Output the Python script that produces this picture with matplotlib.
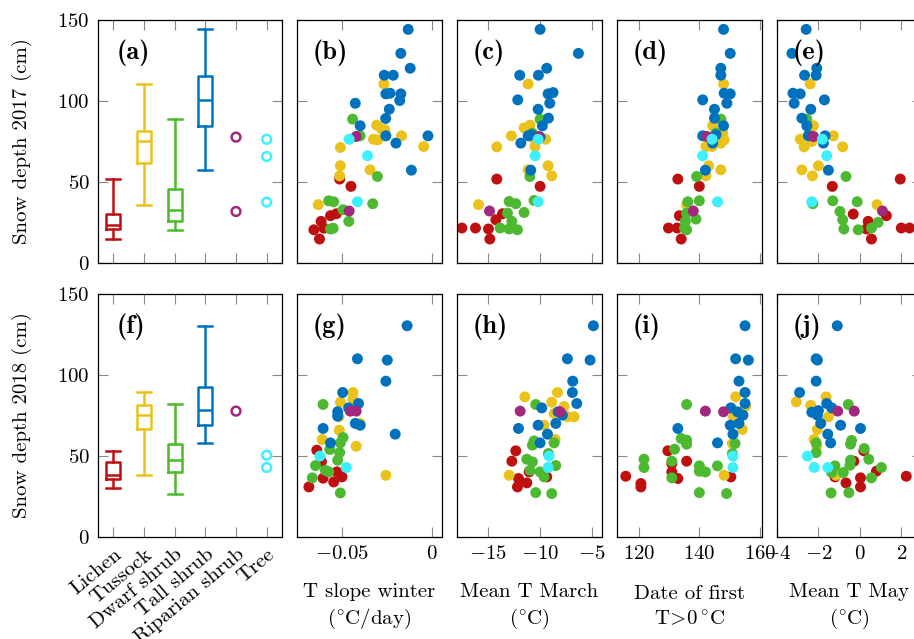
import matplotlib
matplotlib.use("Agg")
import matplotlib.pyplot as plt

plt.rcParams['font.family'] = 'cmr10'
plt.rcParams['mathtext.fontset'] = 'cm'
plt.rcParams['axes.unicode_minus'] = False

classes = ["Lichen", "Tussock", "Dwarf shrub", "Tall shrub", "Riparian shrub", "Tree"]
colors = ["#BE1010", "#EBC21B", "#4DB930", "#0072BD", "#A2287E", "#3DF0FF"]

# boxplot stats for the first four classes: whisker low, q1, median, q3, whisker high
lo17 = [14.8, 35.8, 20.1, 57.1]
q1_17 = [21.0, 62.0, 25.9, 84.4]
med17 = [23.2, 75.0, 32.5, 100.7]
q3_17 = [30.2, 81.2, 45.8, 115.5]
hi17 = [52.0, 110.7, 88.8, 144.2]
riparian17 = [77.7, 31.8]
tree17 = [76.4, 65.7, 37.6]

lo18 = [30.5, 38.1, 26.8, 58.1]
q1_18 = [35.9, 66.6, 40.2, 69.4]
med18 = [38.5, 75.2, 47.4, 78.3]
q3_18 = [46.2, 81.2, 57.3, 92.7]
hi18 = [53.0, 89.2, 81.8, 130.4]
riparian18 = [77.7]
tree18 = [50.5, 42.9]

# scatter panels, 2017 (snow depth vs predictor)
b_pts = {
    "Lichen": [(-0.0513, 51.8), (-0.0450, 47.3), (-0.0564, 29.2), (-0.0531, 30.4),
               (-0.0616, 25.7), (-0.0656, 20.5), (-0.0625, 14.8), (-0.0600, 21.5)],
    "Tussock": [(-0.0267, 110.5), (-0.0307, 85.1), (-0.0279, 82.6), (-0.0261, 82.2),
                (-0.0325, 76.4), (-0.0301, 76.0), (-0.0169, 78.5), (-0.0046, 71.9),
                (-0.0509, 71.3), (-0.0509, 60.0), (-0.0513, 53.8), (-0.0344, 57.5),
                (-0.0632, 36.0)],
    "Dwarf shrub": [(-0.0441, 88.8), (-0.0399, 78.5), (-0.0303, 53.4), (-0.0574, 38.4),
                    (-0.0546, 37.8), (-0.0329, 36.6), (-0.0494, 32.9), (-0.0462, 25.7),
                    (-0.0564, 21.0), (-0.0549, 21.4)],
    "Tall shrub": [(-0.0132, 144.2), (-0.0173, 129.4), (-0.0121, 120.2), (-0.0265, 115.9),
                   (-0.0215, 115.9), (-0.0256, 104.4), (-0.0233, 104.8), (-0.0173, 104.4),
                   (-0.0179, 100.3), (-0.0426, 98.6), (-0.0237, 94.9), (-0.0257, 89.2),
                   (-0.0399, 84.7), (-0.0256, 78.5), (-0.0200, 74.0), (-0.0022, 78.5),
                   (-0.0114, 57.3)],
    "Riparian shrub": [(-0.0421, 78.1), (-0.0460, 32.1)],
    "Tree": [(-0.0460, 76.4), (-0.0358, 66.2), (-0.0414, 37.8)],
}
c_pts = {
    "Lichen": [(-14.17, 51.8), (-10.0, 47.3), (-13.62, 30.4), (-14.26, 26.7),
               (-17.53, 21.6), (-16.22, 21.6), (-14.97, 21.0), (-14.84, 14.8)],
    "Tussock": [(-11.15, 110.5), (-12.76, 78.5), (-14.17, 71.7), (-11.54, 83.4),
                (-10.96, 85.1), (-10.64, 77.1), (-9.46, 76.4), (-10.48, 71.9),
                (-9.23, 60.0), (-8.88, 53.8), (-11.15, 57.5), (-15.93, 36.0)],
    "Dwarf shrub": [(-10.0, 88.8), (-10.74, 80.1), (-10.99, 53.4), (-12.98, 38.0),
                    (-12.34, 36.6), (-10.58, 38.6), (-11.54, 31.2), (-13.14, 30.8),
                    (-12.72, 25.7), (-13.85, 21.6), (-12.98, 21.0), (-12.18, 20.5)],
    "Tall shrub": [(-10.0, 144.2), (-6.31, 129.4), (-9.36, 120.2), (-11.96, 115.9),
                   (-10.16, 115.9), (-9.23, 104.4), (-8.75, 105.2), (-9.07, 98.6),
                   (-12.15, 100.7), (-10.19, 94.9), (-9.2, 89.4), (-9.78, 84.7),
                   (-11.15, 78.5), (-10.8, 79.1), (-11.86, 74.0), (-10.9, 57.3),
                   (-10.0, 77.7)],
    "Riparian shrub": [(-14.87, 32.1), (-10.1, 78.1)],
    "Tree": [(-10.19, 76.4), (-10.48, 66.2), (-10.19, 37.8)],
}
d_pts = {
    "Lichen": [(132.9, 51.8), (140.0, 47.3), (133.4, 29.2), (129.8, 21.6),
               (132.7, 21.6), (134.0, 14.8)],
    "Tussock": [(148.0, 110.5), (144.4, 84.7), (147.7, 80.5), (148.2, 76.0),
                (147.1, 74.0), (142.2, 71.9), (144.2, 71.9), (143.1, 60.0),
                (142.2, 53.8), (147.1, 57.5), (135.8, 36.0)],
    "Dwarf shrub": [(147.1, 88.8), (145.5, 80.1), (139.1, 53.4), (140.0, 38.4),
                    (136.2, 37.8), (135.8, 30.8), (138.9, 27.1), (135.4, 25.7),
                    (135.1, 21.6), (135.8, 20.5)],
    "Tall shrub": [(148.0, 144.2), (150.2, 129.4), (147.1, 120.2), (147.1, 115.9),
                   (148.2, 104.8), (150.2, 104.4), (149.1, 98.6), (141.1, 100.7),
                   (145.0, 94.9), (145.0, 89.4), (148.0, 84.7), (141.1, 78.5),
                   (144.0, 76.0), (144.4, 74.0), (142.0, 57.3), (145.5, 79.1)],
    "Riparian shrub": [(142.5, 78.1), (138.0, 32.1)],
    "Tree": [(144.2, 76.4), (141.1, 66.2), (146.0, 37.8)],
}
e_pts = {
    "Lichen": [(1.95, 51.8), (-1.33, 47.3), (-0.32, 30.2), (0.4, 25.7), (1.28, 29.2),
               (0.32, 21.0), (0.56, 14.8), (2.0, 21.6), (2.4, 21.6)],
    "Tussock": [(-2.4, 110.5), (-2.24, 84.7), (-1.28, 78.5), (-2.88, 76.4),
                (-2.32, 75.0), (-2.69, 71.7), (-0.83, 71.7), (-2.0, 60.0),
                (-2.29, 53.8), (-2.8, 57.5), (0.83, 36.0)],
    "Dwarf shrub": [(-2.56, 88.8), (-2.48, 79.1), (-0.67, 53.4), (-1.31, 38.4),
                    (-0.13, 37.8), (-2.27, 36.6), (-0.96, 31.8), (-0.83, 26.7),
                    (-0.77, 21.0), (-0.08, 20.5), (0.88, 25.1), (0.56, 21.6)],
    "Tall shrub": [(-2.59, 144.2), (-3.28, 129.4), (-2.08, 120.2), (-2.67, 115.9),
                   (-2.11, 115.9), (-3.23, 104.8), (-2.88, 104.4), (-3.17, 98.6),
                   (-1.71, 100.7), (-2.37, 94.9), (-2.8, 89.4), (-2.56, 84.7),
                   (-1.68, 78.5), (-1.76, 74.0), (-1.52, 57.3), (-2.48, 78.5)],
    "Riparian shrub": [(-2.24, 78.1), (1.09, 32.1)],
    "Tree": [(-1.81, 76.4), (-1.6, 66.2), (-2.32, 37.8)],
}

# scatter panels, 2018
g_pts = {
    "Lichen": [(-0.0640, 53.6), (-0.0614, 46.4), (-0.0528, 40.2), (-0.0500, 37.1),
               (-0.0605, 36.3), (-0.0546, 34.0), (-0.0684, 30.9)],
    "Tussock": [(-0.0439, 89.2), (-0.0509, 83.2), (-0.0439, 85.1), (-0.0517, 74.2),
                (-0.0399, 70.1), (-0.0515, 65.9), (-0.0610, 60.2), (-0.0421, 56.0),
                (-0.0256, 38.1)],
    "Dwarf shrub": [(-0.0605, 81.8), (-0.0494, 61.4), (-0.0509, 58.1), (-0.0568, 54.0),
                    (-0.0513, 52.1), (-0.0524, 47.4), (-0.0647, 44.1), (-0.0592, 41.2),
                    (-0.0574, 40.2), (-0.0665, 36.5), (-0.0509, 27.2)],
    "Tall shrub": [(-0.0138, 130.4), (-0.0414, 110.0), (-0.0248, 109.2), (-0.0256, 96.2),
                   (-0.0496, 89.2), (-0.0408, 82.4), (-0.0463, 79.7), (-0.0524, 77.3),
                   (-0.0524, 74.6), (-0.0426, 70.1), (-0.0399, 69.0), (-0.0605, 67.0),
                   (-0.0204, 63.5), (-0.0564, 58.1)],
    "Riparian shrub": [(-0.0454, 77.7), (-0.0421, 77.7)],
    "Tree": [(-0.0623, 49.9), (-0.0476, 42.9)],
}
h_pts = {
    "Lichen": [(-12.34, 53.2), (-12.72, 46.8), (-12.08, 36.1), (-11.28, 33.4),
               (-12.18, 30.9), (-11.06, 40.2), (-9.36, 37.1)],
    "Tussock": [(-11.47, 86.5), (-8.33, 89.2), (-8.88, 83.2), (-7.69, 80.5),
                (-6.73, 74.2), (-7.37, 74.2), (-9.62, 69.0), (-8.56, 60.2),
                (-12.98, 38.1), (-8.65, 76.2)],
    "Dwarf shrub": [(-10.42, 81.8), (-10.58, 59.3), (-8.65, 58.1), (-10.74, 56.7),
                    (-9.2, 51.5), (-11.28, 48.0), (-10.74, 46.4), (-8.49, 44.1),
                    (-10.96, 41.2), (-10.0, 40.2), (-9.62, 37.1), (-10.42, 27.4),
                    (-8.88, 26.8)],
    "Tall shrub": [(-4.87, 130.4), (-7.37, 110.0), (-5.19, 109.2), (-6.86, 96.2),
                   (-6.89, 89.2), (-6.47, 82.4), (-9.84, 79.7), (-8.27, 77.3),
                   (-7.85, 75.2), (-8.49, 70.1), (-10.19, 69.0), (-12.08, 67.0),
                   (-9.29, 63.5), (-10.0, 58.1)],
    "Riparian shrub": [(-11.92, 77.7), (-8.08, 77.3)],
    "Tree": [(-9.13, 49.9), (-9.23, 42.9)],
}
i_pts = {
    "Lichen": [(129.6, 53.2), (130.9, 45.3), (135.8, 46.8), (130.9, 40.2),
               (132.9, 36.1), (115.7, 37.5), (120.7, 33.0), (120.7, 30.9),
               (150.4, 37.1)],
    "Tussock": [(152.0, 86.5), (155.3, 80.8), (154.2, 66.4), (150.9, 57.7),
                (148.2, 38.1), (151.3, 74.2)],
    "Dwarf shrub": [(135.8, 81.8), (134.0, 60.8), (135.8, 59.8), (135.8, 57.3),
                    (131.8, 54.2), (151.8, 57.7), (150.9, 51.5), (121.7, 48.0),
                    (121.7, 42.9), (130.9, 46.8), (140.0, 43.9), (140.0, 40.6),
                    (142.0, 40.2), (146.0, 43.9), (130.9, 36.5), (140.0, 27.4),
                    (149.0, 26.8)],
    "Tall shrub": [(155.1, 130.4), (152.0, 110.0), (156.2, 109.2), (153.1, 96.2),
                   (155.1, 89.2), (155.1, 82.4), (150.4, 79.7), (152.6, 77.3),
                   (154.4, 75.2), (153.1, 70.1), (150.2, 69.0), (132.9, 67.0),
                   (151.1, 63.5), (146.0, 58.1)],
    "Riparian shrub": [(142.0, 77.7), (148.0, 77.3)],
    "Tree": [(151.1, 49.9), (151.1, 42.9)],
}
j_pts = {
    "Lichen": [(0.19, 53.2), (-0.29, 46.8), (0.8, 40.6), (-1.2, 37.1), (-0.67, 33.4),
               (0.03, 36.5), (0.03, 30.9), (2.24, 37.5)],
    "Tussock": [(-3.07, 83.4), (-2.37, 81.3), (-1.63, 86.5), (-1.52, 74.2),
                (-2.05, 66.4), (-2.21, 60.2), (-2.08, 56.0), (-1.15, 38.1)],
    "Dwarf shrub": [(-0.56, 81.8), (-0.4, 59.6), (-0.45, 57.3), (0.21, 54.6),
                    (-2.11, 58.1), (-2.11, 52.1), (0.43, 48.0), (-0.45, 47.4),
                    (-0.48, 44.3), (-1.2, 43.9), (-0.8, 39.8), (1.04, 42.9),
                    (0.56, 36.5), (-1.36, 39.8), (-1.39, 27.2), (-0.53, 27.4)],
    "Tall shrub": [(-1.09, 130.4), (-2.11, 110.0), (-2.05, 109.2), (-2.11, 96.2),
                   (-2.91, 89.2), (-1.6, 82.4), (-1.36, 79.7), (-2.32, 77.0),
                   (-2.0, 78.0), (-2.05, 75.2), (-0.93, 69.0), (-1.89, 70.1),
                   (0.03, 67.0), (-1.55, 63.5), (-1.41, 58.1)],
    "Riparian shrub": [(-1.07, 77.7), (-0.27, 77.7)],
    "Tree": [(-2.53, 49.9), (-2.21, 42.9), (-1.55, 42.9)],
}

# x ticks / limits of the scatter columns
b_ticks = [-0.05, 0]
b_labels = [r"$-0.05$", r"$0$"]
c_ticks = [-15, -10, -5]
c_labels = [r"$-15$", r"$-10$", r"$-5$"]
d_ticks = [120, 140, 160]
d_labels = [r"$120$", r"$140$", r"$160$"]
e_ticks = [-4, -2, 0, 2]
e_labels = [r"$-4$", r"$-2$", r"$0$", r"$2$"]
y_ticks = [0, 50, 100, 150]
y_labels = [r"$0$", r"$50$", r"$100$", r"$150$"]

xlabels = ["T slope winter\n" + r"$(^{\circ}\mathrm{C/day})$",
           "Mean T March\n" + r"$(^{\circ}\mathrm{C})$",
           "Date of first\n" + r"$\mathrm{T}\!>\!\mathrm{0}\,^{\circ}\mathrm{C}$",
           "Mean T May\n" + r"$(^{\circ}\mathrm{C})$"]

W, H = 914, 639
fig = plt.figure(figsize=(W / 100, H / 100), dpi=100)

col_left = [98, 297, 457, 617, 777]
col_width = [184, 145, 145, 145, 145]
row_top = [20, 294]
row_h = 243


def make_ax(r, c):
    ax = fig.add_axes([col_left[c] / W, 1 - (row_top[r] + row_h) / H,
                       col_width[c] / W, row_h / H])
    ax.tick_params(direction="in", top=True, right=True, length=7.5, width=0.8,
                   color="#888888", labelsize=15, pad=6)
    for s in ax.spines.values():
        s.set_linewidth(0.9)
    ax.set_ylim(0, 150)
    ax.set_yticks(y_ticks)
    return ax


letters = "abcdefghij"
box_data = [(lo17, q1_17, med17, q3_17, hi17, riparian17, tree17),
            (lo18, q1_18, med18, q3_18, hi18, riparian18, tree18)]
scatter_data = [[b_pts, c_pts, d_pts, e_pts], [g_pts, h_pts, i_pts, j_pts]]
tick_sets = [(b_ticks, b_labels, (-0.075, 0.0056)),
             (c_ticks, c_labels, (-18, -4.04)),
             (d_ticks, d_labels, (112.8, 160.7)),
             (e_ticks, e_labels, (-4, 3))]

for r in range(2):
    lo, q1, med, q3, hi, rip, tree = box_data[r]
    ax = make_ax(r, 0)
    for k in range(4):
        st = [dict(med=med[k], q1=q1[k], q3=q3[k], whislo=lo[k], whishi=hi[k], fliers=[])]
        props = dict(color=colors[k], linewidth=1.8)
        ax.bxp(st, positions=[k + 1], widths=0.45, capwidths=0.45, showfliers=False,
               boxprops=props, whiskerprops=props, capprops=props, medianprops=props,
               manage_ticks=False)
    ax.scatter([5] * len(rip), rip, s=40, facecolors="none", edgecolors=colors[4],
               linewidths=1.8, zorder=3)
    ax.scatter([6] * len(tree), tree, s=40, facecolors="none", edgecolors=colors[5],
               linewidths=1.8, zorder=3)
    ax.set_xlim(0.5, 6.5)
    ax.set_xticks(range(1, 7))
    ax.set_yticklabels(y_labels)
    if r == 1:
        ax.set_xticklabels(classes, rotation=40, ha="right", va="top",
                           rotation_mode="anchor", fontsize=15)
    else:
        ax.tick_params(labelbottom=False)
    ax.text(0.1, 0.865, "(" + letters[r * 5] + ")", transform=ax.transAxes,
            family="cmb10", fontsize=19, ha="left", va="center")

    for c in range(4):
        ax = make_ax(r, c + 1)
        pts = scatter_data[r][c]
        for k, name in enumerate(classes):
            xs = [p[0] for p in pts[name]]
            ys = [p[1] for p in pts[name]]
            ax.scatter(xs, ys, s=62, color=colors[k], edgecolors="none", zorder=2)
        ticks, labels, lim = tick_sets[c]
        ax.set_xlim(*lim)
        ax.set_xticks(ticks)
        ax.tick_params(labelleft=False)
        if r == 1:
            ax.set_xticklabels(labels)
            ax.text(0.5, (row_h - 70) / row_h - 1, xlabels[c], transform=ax.transAxes,
                    ha="center", va="center", fontsize=15, linespacing=1.35,
                    multialignment="center")
        else:
            ax.tick_params(labelbottom=False)
        ax.text(0.105, 0.865, "(" + letters[r * 5 + c + 1] + ")", transform=ax.transAxes,
                family="cmb10", fontsize=19, ha="left", va="center")

fig.text(22 / W, 1 - 141 / H, "Snow depth 2017 (cm)", rotation=90,
         ha="center", va="center", fontsize=15)
fig.text(22 / W, 1 - 415 / H, "Snow depth 2018 (cm)", rotation=90,
         ha="center", va="center", fontsize=15)

fig.savefig("out.png", dpi=100)
